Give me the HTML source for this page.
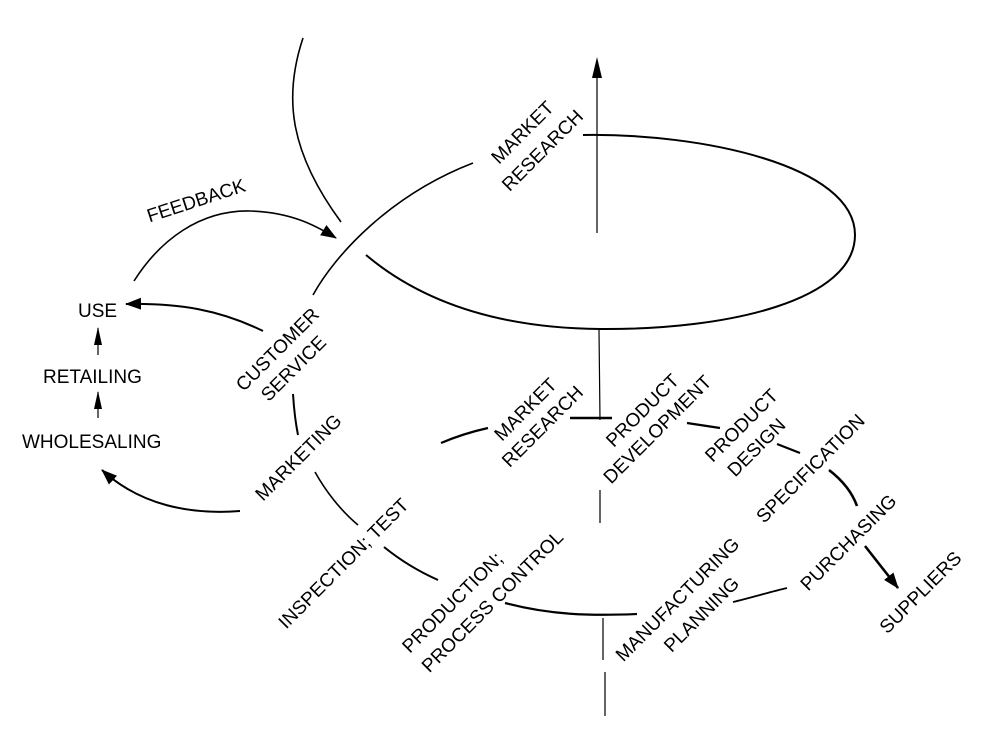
<!DOCTYPE html>
<html><head><meta charset="utf-8"><style>
html,body{margin:0;padding:0;background:#fff}
svg{display:block}
text{font-family:"Liberation Sans",Arial,sans-serif;font-size:19px;fill:#000}
</style></head><body>
<svg width="992" height="735" viewBox="0 0 992 735" xmlns="http://www.w3.org/2000/svg">
<defs>
<marker id="ahb" markerWidth="16" markerHeight="12" refX="15" refY="6" orient="auto" markerUnits="userSpaceOnUse">
<path d="M0,0 L16,6 L0,12 Z" fill="#000"/></marker>
</defs>
<g fill="none" stroke="#000" stroke-width="1.6">
<path d="M303,38 C 284,95 288,150 341,222"/>
<path d="M313,295 C 335,255 390,195 473,163"/>
<path d="M583,135 C 700,133 855,165 855,235 C 855,300 730,330 600,329 C 480,328 410,292 366,255" stroke-width="2"/>
<line x1="597" y1="233" x2="597" y2="70" stroke-width="1.2"/>
<path d="M597,57 L592,78 L602,78 Z" fill="#000" stroke="none"/>
<line x1="599" y1="330" x2="600" y2="420" stroke-width="1.2"/>
<line x1="600" y1="490" x2="600" y2="523" stroke-width="1.2"/>
<line x1="603" y1="618" x2="603" y2="660" stroke-width="1.2"/>
<line x1="605" y1="672" x2="605" y2="716" stroke-width="1.2"/>
<path d="M293,394 C 294,410 296,425 298,435" stroke-width="2"/>
<path d="M315,472 C 325,490 340,510 358,525"/>
<path d="M384,547 C 400,560 420,572 438,580" stroke-width="2"/>
<path d="M505,603 C 550,615 590,616 637,614" stroke-width="2.2"/>
<path d="M441,443 C 455,437 470,432 488,428" stroke-width="2.2"/>
<line x1="570" y1="418" x2="612" y2="418" stroke-width="2.4"/>
<path d="M687,423 L720,428" stroke-width="2.2"/>
<path d="M777,444 L800,453" stroke-width="2.2"/>
<path d="M829,470 C 842,480 852,492 857,506" stroke-width="2.6"/>
<path d="M865,546 L898,588" stroke-width="2.6" marker-end="url(#ahb)"/>
<path d="M733,602 C 750,598 770,592 787,588" stroke-width="1.8"/>
<path d="M134,281 C 160,240 200,210 250,211 C 290,212 315,225 336,238" marker-end="url(#ahb)"/>
<path d="M263,331 C 220,310 180,303 126,304" stroke-width="2" marker-end="url(#ahb)"/>
<line x1="98" y1="355" x2="98" y2="328" stroke-width="1.2"/>
<path d="M98,327 L94,345 L102,345 Z" fill="#000" stroke="none"/>
<line x1="98" y1="418" x2="98" y2="392" stroke-width="1.2"/>
<path d="M98,391 L94,409 L102,409 Z" fill="#000" stroke="none"/>
<path d="M240,511 C 190,515 140,505 102,470" stroke-width="2" marker-end="url(#ahb)"/>
</g>
<text x="78" y="317">USE</text>
<text x="43" y="383">RETAILING</text>
<text x="22" y="448">WHOLESALING</text>
<g text-anchor="middle">
<text x="196" y="207" transform="rotate(-18 196 200)">FEEDBACK</text>
<text x="277" y="356" transform="rotate(-45 277 349)">CUSTOMER</text>
<text x="293" y="375" transform="rotate(-45 293 368)">SERVICE</text>
<text x="298" y="464" transform="rotate(-45 298 457)">MARKETING</text>
<text x="343" y="570" transform="rotate(-45 343 563)">INSPECTION;  TEST</text>
<text x="452" y="609" transform="rotate(-45 452 602)">PRODUCTION;</text>
<text x="492" y="608" transform="rotate(-45 492 601)">PROCESS CONTROL</text>
<text x="522" y="139" transform="rotate(-45 522 132)">MARKET</text>
<text x="542" y="157" transform="rotate(-45 542 150)">RESEARCH</text>
<text x="525" y="416" transform="rotate(-45 525 409)">MARKET</text>
<text x="542" y="433" transform="rotate(-45 542 426)">RESEARCH</text>
<text x="642" y="417" transform="rotate(-45 642 410)">PRODUCT</text>
<text x="657" y="436" transform="rotate(-45 657 429)">DEVELOPMENT</text>
<text x="741" y="432" transform="rotate(-45 741 425)">PRODUCT</text>
<text x="756" y="454" transform="rotate(-45 756 447)">DESIGN</text>
<text x="810" y="475" transform="rotate(-45 810 468)">SPECIFICATION</text>
<text x="848" y="549" transform="rotate(-45 848 542)">PURCHASING</text>
<text x="677" y="606" transform="rotate(-45 677 599)">MANUFACTURING</text>
<text x="701" y="621" transform="rotate(-45 701 614)">PLANNING</text>
<text x="920" y="599" transform="rotate(-45 920 592)">SUPPLIERS</text>
</g>
</svg>
</body></html>
